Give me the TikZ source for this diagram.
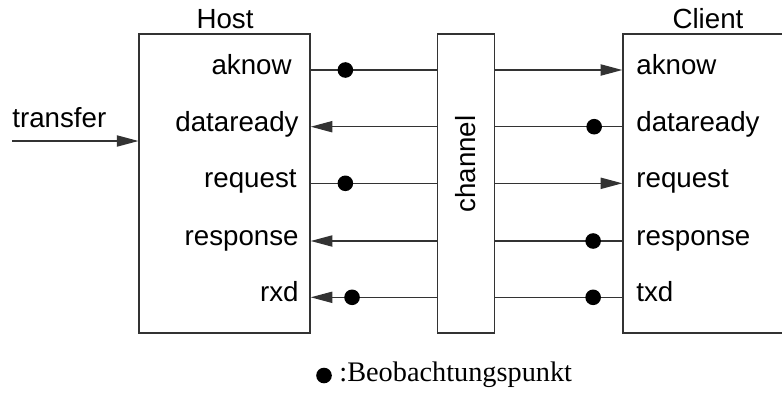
\documentclass[tikz,border=0pt]{standalone}
\usepackage{fontspec}
\setmainfont{Liberation Serif}
\setsansfont{Liberation Sans}
\usetikzlibrary{arrows.meta, positioning}

\begin{document}
\begin{tikzpicture}[x=0.5pt, y=-0.5pt,
  blk/.style={draw=black!80, line width=0.65pt, inner sep=0pt, minimum height=149.5pt},
  sig/.style={font=\sffamily\fontsize{13.85}{16}\selectfont, inner sep=0pt},
  wire/.style={draw=black!80, line width=0.65pt},
  arr/.style={wire, -{Triangle[length=10.8pt, width=5.6pt]}},
  obs/.style={circle, fill=black, inner sep=0pt, minimum size=7.8pt}
]
  \clip (0,0) rectangle (782,392);

  % blocks
  \node[blk, minimum width=85.5pt] (host) at (224.6,183.5) {};
  \node[blk, minimum width=28.3pt] (chan) at (466,183.5) {};
  \node[blk, minimum width=120pt, anchor=west] (client) at (622.3,183.5) {};

  \node[sig, anchor=base] (hosttitle) at (225,28) {Host};
  \node[sig, anchor=base] (clienttitle) at (708,28) {Client};
  \node[sig, rotate=90] (chantext) at (466,164) {channel};

  % host ports
  \node[sig, anchor=mid east] (hA) at (292,70) {aknow};
  \node[sig, anchor=mid east] (hB) at (299,126.7) {dataready};
  \node[sig, anchor=mid east] (hC) at (297,183.3) {request};
  \node[sig, anchor=mid east] (hD) at (299,241) {response};
  \node[sig, anchor=mid east] (hE) at (299,297.3) {rxd};

  % client ports
  \node[sig, anchor=mid west] (cA) at (636,70) {aknow};
  \node[sig, anchor=mid west] (cB) at (636,126.7) {dataready};
  \node[sig, anchor=mid west] (cC) at (636,183.3) {request};
  \node[sig, anchor=mid west] (cD) at (636,241) {response};
  \node[sig, anchor=mid west] (cE) at (636,297.3) {txd};

  % input
  \node[sig, anchor=base west] (trlabel) at (12,127) {transfer};
  \coordinate (trin) at (12,141);
  \draw[arr] (trin) -- (host.west |- trin);

  % host <-> channel
  \draw[wire] (host.east |- hA.mid) -- node[obs, pos=0.274] (oA) {} (chan.west |- hA.mid);
  \draw[arr] (chan.west |- hB.mid) -- (host.east |- hB.mid);
  \draw[wire] (host.east |- hC.mid) -- node[obs, pos=0.274] (oC) {} (chan.west |- hC.mid);
  \draw[arr] (chan.west |- hD.mid) -- (host.east |- hD.mid);
  \draw[arr] (chan.west |- hE.mid) -- node[obs, pos=0.673] (oE) {} (host.east |- hE.mid);

  % channel <-> client
  \draw[arr] (chan.east |- cA.mid) -- (client.west |- cA.mid);
  \draw[wire] (client.west |- cB.mid) -- node[obs, pos=0.221] (pB) {} (chan.east |- cB.mid);
  \draw[arr] (chan.east |- cC.mid) -- (client.west |- cC.mid);
  \draw[wire] (client.west |- cD.mid) -- node[obs, pos=0.229] (pD) {} (chan.east |- cD.mid);
  \draw[wire] (client.west |- cE.mid) -- node[obs, pos=0.229] (pE) {} (chan.east |- cE.mid);

  % legend
  \node[obs] (legdot) at (324,375.5) {};
  \node[anchor=base west, inner sep=0pt, font=\fontsize{14.15}{17}\selectfont] (legtext) at (339,381.7) {:Beobachtungspunkt};
\end{tikzpicture}
\end{document}
